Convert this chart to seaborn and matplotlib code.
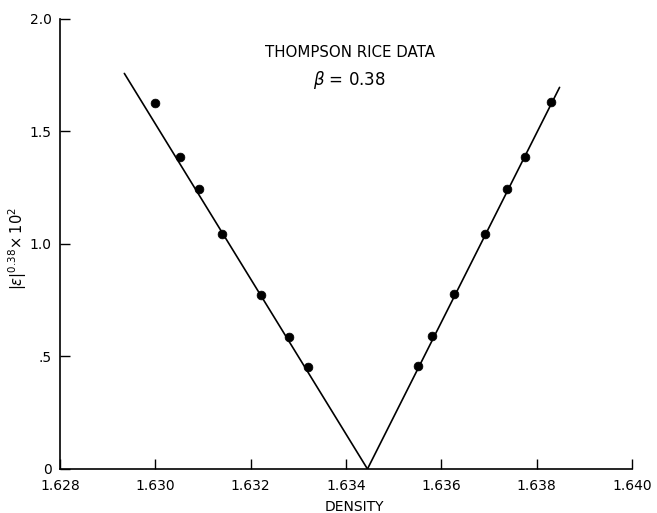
import matplotlib
matplotlib.use("Agg")
import matplotlib.pyplot as plt
import seaborn as sns

# Thompson rice data, beta = 0.38
left_density = [1.6300, 1.63052, 1.63092, 1.63140, 1.63222, 1.63281, 1.63320]
left_eps = [1.628, 1.385, 1.243, 1.043, 0.773, 0.588, 0.452]
right_density = [1.63552, 1.63581, 1.63627, 1.63692, 1.63737, 1.63775, 1.63830]
right_eps = [0.458, 0.592, 0.778, 1.046, 1.243, 1.385, 1.630]

# fitted straight lines meeting at the critical density
left_fit_x = [1.62935, 1.63445]
left_fit_y = [1.758, 0.0]
right_fit_x = [1.63445, 1.63848]
right_fit_y = [0.0, 1.696]

x_ticks = [1.628, 1.630, 1.632, 1.634, 1.636, 1.638, 1.640]
x_labels = ["1.628", "1.630", "1.632", "1.634", "1.636", "1.638", "1.640"]
y_ticks = [0, 0.5, 1.0, 1.5, 2.0]
y_labels = ["0", ".5", "1.0", "1.5", "2.0"]

sns.set_style("ticks")
plt.rcParams["font.family"] = ["DejaVu Sans"]
plt.rcParams["text.color"] = "black"
plt.rcParams["axes.labelcolor"] = "black"

fig = plt.figure(figsize=(6.57, 5.13), dpi=100)
ax = fig.add_axes([0.0913, 0.0858, 0.8707, 0.8772])

sns.lineplot(x=left_fit_x, y=left_fit_y, color="black", linewidth=1.2, ax=ax)
sns.lineplot(x=right_fit_x, y=right_fit_y, color="black", linewidth=1.2, ax=ax)
sns.scatterplot(x=left_density, y=left_eps, color="black", s=40, edgecolor="black", ax=ax)
sns.scatterplot(x=right_density, y=right_eps, color="black", s=40, edgecolor="black", ax=ax)

ax.set_xlim(1.628, 1.640)
ax.set_ylim(0, 2.0)
ax.set_xticks(x_ticks)
ax.set_xticklabels(x_labels, fontsize=10)
ax.set_yticks(y_ticks)
ax.set_yticklabels(y_labels, fontsize=10)
ax.tick_params(direction="in", length=7, width=1, colors="black", labelcolor="black")
ax.tick_params(axis="x", pad=7)
ax.tick_params(axis="y", pad=6)
sns.despine(ax=ax)
for side in ["left", "bottom"]:
    ax.spines[side].set_linewidth(1.2)
    ax.spines[side].set_color("black")

ax.set_xlabel("DENSITY", fontsize=10)
ax.xaxis.set_label_coords(0.515, -0.068)
ax.set_ylabel(r"$|\epsilon|^{0.38}\!\times 10^2$", fontsize=10.5)
ax.yaxis.set_label_coords(-0.054, 0.49)

ax.text(1.63408, 1.853, "THOMPSON RICE DATA", ha="center", va="center", fontsize=10.8)
ax.text(1.63408, 1.729, r"$\beta$ = 0.38", ha="center", va="center", fontsize=12)

fig.savefig("out.png", dpi=100)
